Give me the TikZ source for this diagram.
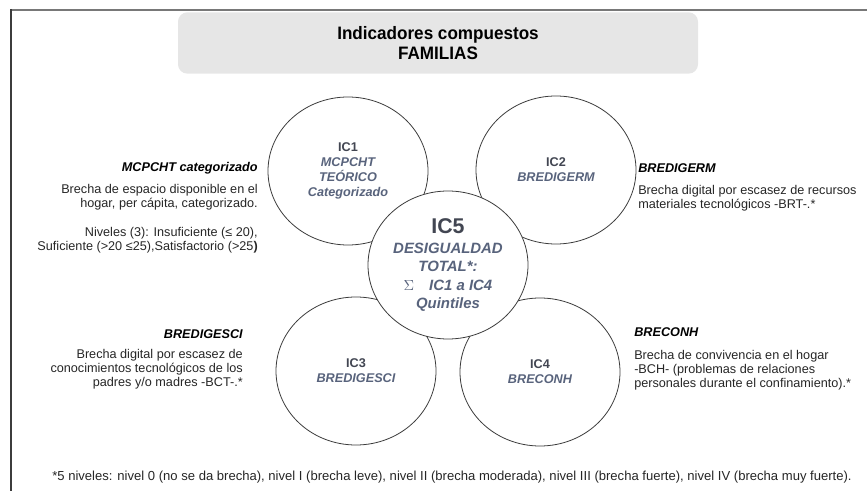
\documentclass[tikz,border=0pt]{standalone}
\usepackage{fontspec}
\setmainfont{Liberation Sans}
\usetikzlibrary{positioning,shapes}
\definecolor{boxgray}{RGB}{230,230,230}
\definecolor{icdark}{RGB}{66,70,82}
\definecolor{icblue}{RGB}{88,99,124}
\definecolor{linegray}{RGB}{60,60,60}
\definecolor{framegray}{RGB}{120,120,120}
\newfontfamily\titlefont[FakeStretch=0.95]{Liberation Sans}

\begin{document}
\begin{tikzpicture} [x=0.75pt, y=-0.75pt, font=\fontsize{9.5}{10.5}\selectfont,
  family/.style={ellipse, draw=linegray, fill=white, line width=0.6pt, minimum width=120pt, minimum height=111pt,
                 inner sep=0pt, align=center, text=icblue, font=\bfseries\itshape\fontsize{9.5}{11.3}\selectfont},
  head/.style={inner sep=0pt, font=\bfseries\itshape\fontsize{9.5}{10.5}\selectfont},
  note/.style={inner sep=0pt, text=black!85}]

  \useasboundingbox (0,0) rectangle (867,491);
  \draw[framegray, line width=1.5pt] (11,10) -- (867,10);
  \draw[linegray, line width=1.5pt] (11,9) -- (11,491);

  \node[rectangle, rounded corners=7pt, fill=boxgray, minimum width=390pt, minimum height=46pt, align=center,
        font=\titlefont\bfseries\fontsize{13.5}{15}\selectfont] (t) at (438,43) {Indicadores compuestos\\FAMILIAS};

  \node[family] (ic1) at (348,171) {{\upshape\color{icdark}IC1}\\MCPCHT\\TEÓRICO\\Categorizado};
  \node[family] (ic2) at (556,170) {{\upshape\color{icdark}IC2}\\BREDIGERM};
  \node[family] (ic3) at (356,371) {{\upshape\color{icdark}IC3}\\BREDIGESCI};
  \node[family] (ic4) at (540,372) {{\upshape\color{icdark}IC4}\\BRECONH};
  \node[family, font=\bfseries\itshape\fontsize{11.2}{13.8}\selectfont] (ic5) at (448,265)
    {{\upshape\color{icdark}\fontsize{16}{17}\selectfont IC5}\\[1pt]DESIGUALDAD\\TOTAL*:\\{\mdseries\upshape$\Sigma$}\quad IC1 a IC4\\Quintiles};

  \node[head, anchor=east] (h1) at (258,168) {MCPCHT categorizado};
  \node[note, align=right, anchor=east] (d1) at (258,197) {Brecha de espacio disponible en el\\hogar, per cápita, categorizado.};
  \node[note, align=right, anchor=east] (n1) at (258,240) {Niveles (3): Insuficiente (≤ 20),\\Suficiente (>20 ≤25),Satisfactorio (>25\textbf{)}};

  \node[head, anchor=west] (h2) at (638,168) {BREDIGERM};
  \node[note, align=left, anchor=west] (d2) at (638,198) {Brecha digital por escasez de recursos\\materiales tecnológicos -BRT-.*};

  \node[head, anchor=east] (h3) at (243,334) {BREDIGESCI};
  \node[note, align=right, anchor=east] (d3) at (243,369) {Brecha digital por escasez de\\conocimientos tecnológicos de los\\padres y/o madres -BCT-.*};

  \node[head, anchor=west] (h4) at (634,332) {BRECONH};
  \node[note, align=left, anchor=west] (d4) at (634,370) {Brecha de convivencia en el hogar\\-BCH- (problemas de relaciones\\personales durante el confinamiento).*};

  \node[note, font=\fontsize{9.8}{10}\selectfont] (f) at (452,477) {*5 niveles: nivel 0 (no se da brecha), nivel I (brecha leve), nivel II (brecha moderada), nivel III (brecha fuerte), nivel IV (brecha muy fuerte).};
\end{tikzpicture}
\end{document}
